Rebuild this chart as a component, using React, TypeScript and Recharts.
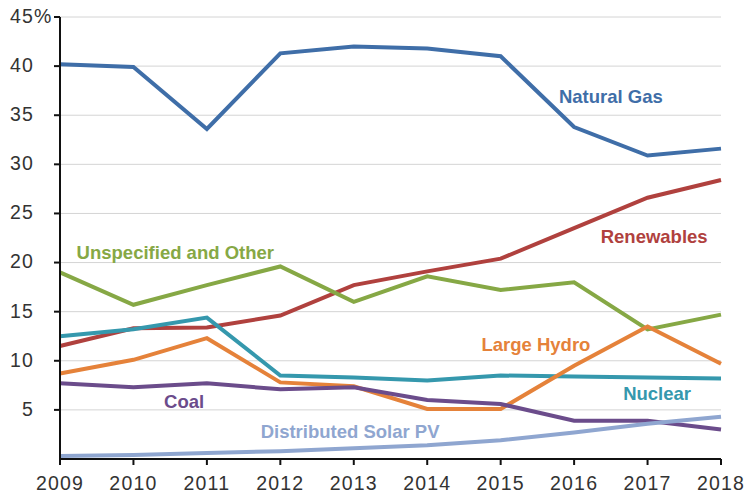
import { LineChart, Line, XAxis, YAxis, CartesianGrid, ReferenceDot } from "recharts";

const years = [2009, 2010, 2011, 2012, 2013, 2014, 2015, 2016, 2017, 2018];
const naturalGas = [40.2, 39.9, 33.6, 41.3, 42.0, 41.8, 41.0, 33.8, 30.9, 31.6];
const renewables = [11.5, 13.3, 13.4, 14.6, 17.7, 19.1, 20.4, 23.5, 26.6, 28.4];
const unspecified = [19.0, 15.7, 17.7, 19.6, 16.0, 18.6, 17.2, 18.0, 13.2, 14.7];
const nuclear = [12.5, 13.2, 14.4, 8.5, 8.3, 8.0, 8.5, 8.4, 8.3, 8.2];
const largeHydro = [8.7, 10.1, 12.3, 7.8, 7.4, 5.1, 5.1, 9.5, 13.5, 9.7];
const coal = [7.7, 7.3, 7.7, 7.1, 7.3, 6.0, 5.6, 3.9, 3.9, 3.0];
const solar = [0.3, 0.4, 0.6, 0.8, 1.1, 1.4, 1.9, 2.7, 3.6, 4.3];
const yTicks = [5, 10, 15, 20, 25, 30, 35, 40, 45];

const series = [
  { key: "naturalGas", name: "Natural Gas", color: "#3f6ea8", lx: 2016.5, ly: 36.9 },
  { key: "renewables", name: "Renewables", color: "#b0413e", lx: 2017.09, ly: 22.7 },
  { key: "unspecified", name: "Unspecified and Other", color: "#86a845", lx: 2010.57, ly: 21.0 },
  { key: "nuclear", name: "Nuclear", color: "#3598ad", lx: 2017.13, ly: 6.7 },
  { key: "largeHydro", name: "Large Hydro", color: "#e5823a", lx: 2015.48, ly: 11.7 },
  { key: "coal", name: "Coal", color: "#6b4c8b", lx: 2010.69, ly: 5.9 },
  { key: "solar", name: "Distributed Solar PV", color: "#8fa6d0", lx: 2012.95, ly: 2.85 },
];

const data = years.map((year, i) => ({
  year,
  naturalGas: naturalGas[i],
  renewables: renewables[i],
  unspecified: unspecified[i],
  nuclear: nuclear[i],
  largeHydro: largeHydro[i],
  coal: coal[i],
  solar: solar[i],
}));

const font = "'Liberation Sans', Arial, Helvetica, sans-serif";
const tickStyle = { fill: "#333", fontSize: 19.5, fontFamily: font, letterSpacing: 1.2 };

// number right-aligned, "%" hangs past the right edge on the top tick
function YTick(props: any) {
  const { x, y, payload } = props;
  const v = payload.value;
  return (
    <g>
      <text x={x} y={y} dy="0.3em" textAnchor="end" {...tickStyle}>
        {v}
      </text>
      {v === 45 && (
        <text x={x} y={y} dy="0.3em" textAnchor="start" {...tickStyle}>
          %
        </text>
      )}
    </g>
  );
}

export default function App() {
  return (
    <div style={{ position: "absolute", left: 0, top: 0, background: "#fff" }}>
      <LineChart width={744} height={493} data={data} margin={{ top: 17, right: 23, left: 0, bottom: 0 }}>
        <CartesianGrid horizontal vertical={false} stroke="#d4d4d4" strokeWidth={1} />
        <XAxis
          dataKey="year"
          type="number"
          domain={[2009, 2018]}
          ticks={years}
          height={34}
          axisLine={{ stroke: "#111", strokeWidth: 2 }}
          tickLine={{ stroke: "#111", strokeWidth: 2 }}
          tickSize={6}
          tickMargin={11}
          tick={tickStyle}
        />
        <YAxis
          type="number"
          domain={[0, 45]}
          ticks={yTicks}
          width={60}
          axisLine={{ stroke: "#111", strokeWidth: 2 }}
          tickLine={{ stroke: "#111", strokeWidth: 2 }}
          tickSize={6}
          tickMargin={20}
          tick={<YTick />}
        />
        {series.map((s) => (
          <Line
            key={s.key}
            dataKey={s.key}
            stroke={s.color}
            strokeWidth={4}
            dot={false}
            type="linear"
            isAnimationActive={false}
          />
        ))}
        {series.map((s) => (
          <ReferenceDot
            key={s.key + "-label"}
            x={s.lx}
            y={s.ly}
            r={0}
            stroke="none"
            fill="none"
            label={{
              value: s.name,
              position: "center",
              fill: s.color,
              fontSize: 18.5,
              fontWeight: "bold",
              fontFamily: font,
            }}
          />
        ))}
      </LineChart>
    </div>
  );
}
